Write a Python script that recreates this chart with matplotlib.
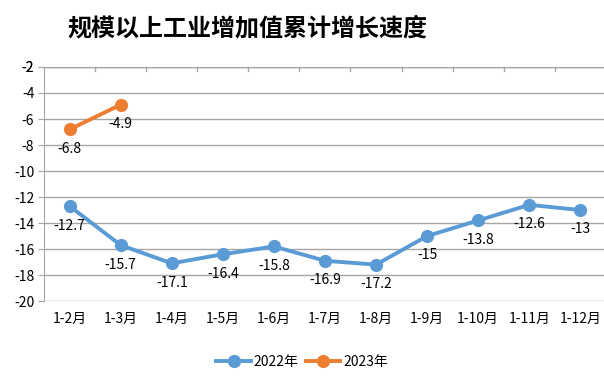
import matplotlib.pyplot as plt

plt.rcParams['font.family'] = ['Noto Sans CJK SC', 'DejaVu Sans']

# data
months = ["1-2月", "1-3月", "1-4月", "1-5月", "1-6月", "1-7月",
          "1-8月", "1-9月", "1-10月", "1-11月", "1-12月"]
vals_2022 = [-12.7, -15.7, -17.1, -16.4, -15.8, -16.9, -17.2, -15, -13.8, -12.6, -13]
vals_2023 = [-6.8, -4.9]
yticks = list(range(-20, 0, 2))

blue = '#5B9BD5'
orange = '#ED7D31'
grid_c = '#A6A6A6'

fig = plt.figure(figsize=(6.04, 3.85), dpi=100)
ax = fig.add_axes([0.073, 0.218, 0.93, 0.608])

x22 = list(range(len(vals_2022)))
x23 = list(range(len(vals_2023)))
ax.plot(x22, vals_2022, color=blue, lw=2.8, marker='o', ms=8.5, label='2022年', zorder=3)
ax.plot(x23, vals_2023, color=orange, lw=2.8, marker='o', ms=8.5, label='2023年', zorder=3)

for xs, ys in ((x22, vals_2022), (x23, vals_2023)):
    for x, y in zip(xs, ys):
        ax.annotate(f"{y:g}", (x, y), xytext=(0, -14), textcoords='offset points',
                    ha='center', va='center', fontsize=10)

ax.set_xlim(-0.5, len(months) - 0.5)
ax.set_ylim(-20, -2)
ax.set_yticks(yticks + [-2])
ax.set_yticklabels([str(t) for t in yticks + [-2]], fontsize=10)
ax.set_xticks(x22)
ax.set_xticklabels(months, fontsize=10)
ax.tick_params(axis='x', length=0, pad=8)
ax.tick_params(axis='y', length=4, color=grid_c, pad=3)

# category boundary ticks at the top axis line
for b in range(1, len(months)):
    ax.plot([b - 0.5, b - 0.5], [-2, -2.3], color=grid_c, lw=1, clip_on=False)

ax.grid(axis='y', color=grid_c, lw=1)
ax.set_axisbelow(True)
for s in ('right', 'bottom'):
    ax.spines[s].set_visible(False)
ax.spines['top'].set_color(grid_c)
ax.spines['left'].set_color(grid_c)

fig.text(0.409, 0.925, "规模以上工业增加值累计增长速度", fontsize=17.3, fontweight='bold',
         ha='center', va='center')

fig.legend(loc='center', bbox_to_anchor=(0.5, 0.06), ncol=2, frameon=False,
           fontsize=10, handlelength=2.5, columnspacing=0.5, handletextpad=0.2)

fig.savefig('out.png', dpi=100)
